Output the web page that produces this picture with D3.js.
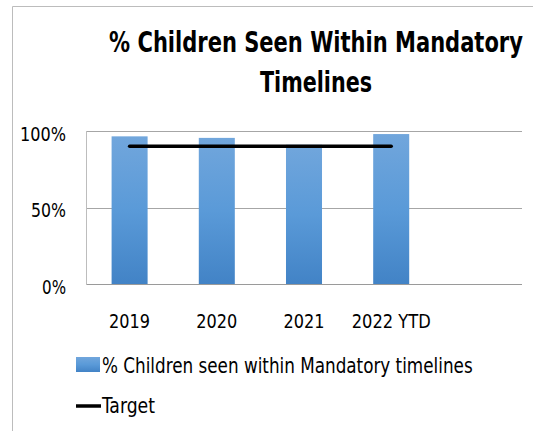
<!DOCTYPE html>
<html><head><meta charset="utf-8">
<script src="https://cdn.jsdelivr.net/npm/d3@7"></script>
<style>
html,body{margin:0;padding:0;background:#fff;}
svg{display:block;}
</style></head>
<body>
<script>
const categories = ["2019", "2020", "2021", "2022 YTD", ""];
const seenValues = [0.965, 0.955, 0.91, 0.98];
const targetValues = [0.90, 0.90, 0.90, 0.90];
const yTicks = [0, 0.5, 1];
const titleLines = ["% Children Seen Within Mandatory", "Timelines"];
const legendLabels = ["% Children seen within Mandatory timelines", "Target"];

const W = 533, H = 431;
const FONT = "'DejaVu Sans Condensed', 'Liberation Sans', sans-serif";
const svg = d3.select("body").append("svg").attr("width", W).attr("height", H);

// squeeze a text horizontally to a measured width (reference font is narrow).
// The text must be positioned at its anchor (x=0) inside a translated group/element.
function fit(sel, w, tx, ty) {
  const node = sel.node();
  const natural = node.getComputedTextLength();
  const k = natural > 0 ? w / natural : 1;
  sel.attr("x", 0).attr("y", 0)
    .attr("transform", `translate(${tx},${ty}) scale(${k},1)`);
}

const defs = svg.append("defs");
const grad = defs.append("linearGradient").attr("id", "barGrad")
  .attr("x1", 0).attr("y1", 0).attr("x2", 0).attr("y2", 1);
grad.append("stop").attr("offset", "0%").attr("stop-color", "#71a6dc");
grad.append("stop").attr("offset", "50%").attr("stop-color", "#5a9ad8");
grad.append("stop").attr("offset", "100%").attr("stop-color", "#4283c6");

// outer chart border
svg.append("path").attr("d", `M12.5,${H} L12.5,6.5 L${W},6.5`)
  .attr("fill", "none").attr("stroke", "#bcbcbc").attr("stroke-width", 1);

const x = d3.scaleBand().domain(categories.map((c, i) => i)).range([86, 522])
  .paddingInner(0.587).paddingOuter(0.2935);
const y = d3.scaleLinear().domain([0, 1]).range([284, 131]);

// gridlines
svg.append("g").selectAll("line").data(yTicks).join("line")
  .attr("x1", 86).attr("x2", 522)
  .attr("y1", d => Math.round(y(d)) + 0.5).attr("y2", d => Math.round(y(d)) + 0.5)
  .attr("stroke", d => d === 0 ? "#9a9a9a" : "#a6a6a6").attr("stroke-width", 1);

// vertical axis line
svg.append("line").attr("x1", 86.5).attr("x2", 86.5).attr("y1", y(1)).attr("y2", y(0) + 1)
  .attr("stroke", "#bdbdbd");

// y axis labels
const yAxis = d3.axisLeft(y).tickValues(yTicks).tickFormat(d3.format(".0%")).tickSize(0).tickPadding(0);
const yg = svg.append("g").attr("transform", "translate(66,0)").call(yAxis);
yg.select(".domain").remove();
const yLabelW = {0: 24, 0.5: 35, 1: 46};
yg.selectAll("text").attr("font-family", FONT).attr("font-size", 19).attr("fill", "#000")
  .attr("dy", null)
  .each(function(d) { fit(d3.select(this), yLabelW[d], 0, 9); });

// bars
svg.append("g").selectAll("rect").data(seenValues).join("rect")
  .attr("x", (d, i) => x(i)).attr("width", x.bandwidth())
  .attr("y", d => y(d)).attr("height", d => y(0) - y(d))
  .attr("fill", "url(#barGrad)");

// target line
const line = d3.line().x((d, i) => x(i) + x.bandwidth() / 2).y(d => y(d));
svg.append("path").datum(targetValues).attr("d", line)
  .attr("fill", "none").attr("stroke", "#000").attr("stroke-width", 3.5).attr("stroke-linecap", "round");

// x axis labels
const xAxis = d3.axisBottom(x).tickFormat(i => categories[i]).tickSize(0).tickPadding(0);
const xg = svg.append("g").attr("transform", "translate(0,284)").call(xAxis);
xg.select(".domain").remove();
xg.selectAll("text").attr("font-family", FONT).attr("font-size", 20).attr("fill", "#000")
  .attr("dy", null)
  .each(function(i) { if (categories[i]) fit(d3.select(this), categories[i].length > 4 ? 79 : 41, 0, 43.5); });

// title
const tWidths = [414, 112];
svg.append("g").selectAll("text").data(titleLines).join("text")
  .attr("text-anchor", "middle").attr("font-family", FONT).attr("font-weight", "bold")
  .attr("font-size", 28).attr("fill", "#000").text(d => d)
  .each(function(d, i) { fit(d3.select(this), tWidths[i], 316, 51.5 + i * 40); });

// legend
const lg = svg.append("g");
lg.append("rect").attr("x", 76).attr("y", 357).attr("width", 24).attr("height", 15).attr("fill", "url(#barGrad)");
lg.append("text").attr("font-family", FONT).attr("font-size", 21)
  .text(legendLabels[0]).call(fit, 371, 102, 372.5);
lg.append("line").attr("x1", 76).attr("x2", 101).attr("y1", 406).attr("y2", 406).attr("stroke", "#000").attr("stroke-width", 3.5);
lg.append("text").attr("font-family", FONT).attr("font-size", 21)
  .text(legendLabels[1]).call(fit, 53, 102, 412.5);
</script>
</body></html>
